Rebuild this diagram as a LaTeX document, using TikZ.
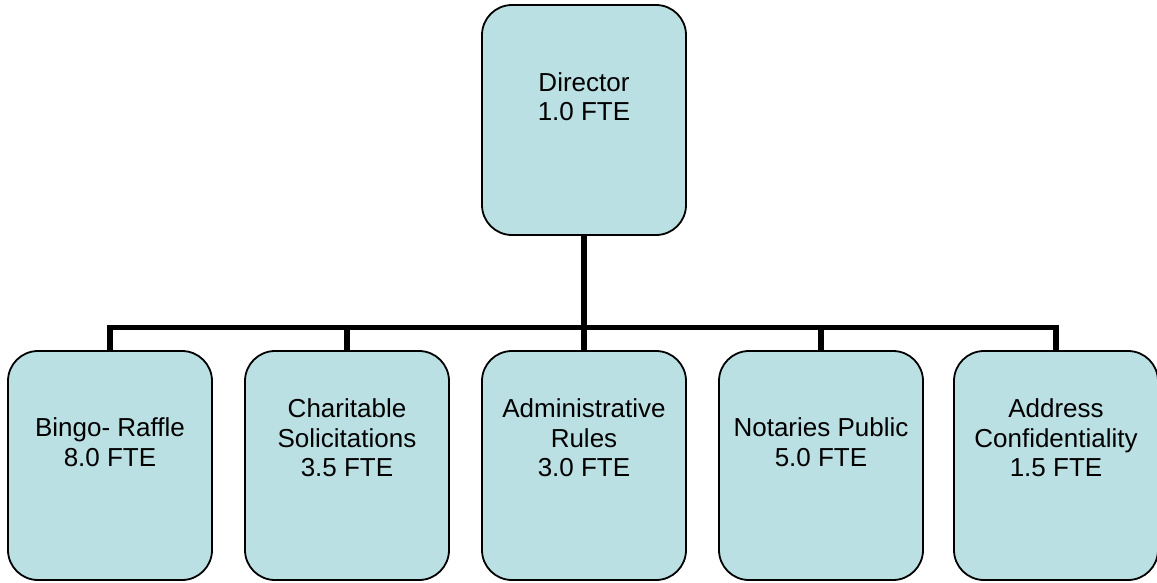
\documentclass[tikz,border=0pt]{standalone}
\usepackage{fontspec}
\setmainfont{Liberation Sans}
\begin{document}
\begin{tikzpicture}[x=1pt,y=-1pt,
  box/.style={draw=black,line width=1.8pt,fill=boxfill,rounded corners=30pt,minimum width=204pt,inner sep=0pt},
  lbl/.style={align=center,font=\fontsize{26}{29.5}\selectfont,inner sep=0pt},
  conn/.style={line width=5.5pt}]
\definecolor{boxfill}{HTML}{BBE0E3}
\useasboundingbox (0,0) rectangle (1157,582);
\node[box,minimum height=230pt] (dir) at (584,120) {};
\node[lbl] (dirt) at (584,96.5) {Director\\1.0 FTE};
\foreach \n/\x/\y/\t in {b1/110/442/{Bingo- Raffle\\8.0 FTE},b2/347/438/{Charitable\\Solicitations\\3.5 FTE},b3/584/438/{Administrative\\Rules\\3.0 FTE},b4/821/442/{Notaries Public\\5.0 FTE},b5/1056/438/{Address\\Confidentiality\\1.5 FTE}}{
  \node[box,minimum height=229pt] (\n) at (\x,465.5) {};
  \node[lbl] (\n t) at (\x,\y) {\t};
}
\coordinate (bus) at (584,327.5);
\draw[conn] (dir.south) -- (bus);
\draw[conn] (b1.north) |- (bus) -| (b5.north);
\foreach \n in {b2,b3,b4}{\draw[conn] (\n.north) -- (\n.north |- bus);}
\end{tikzpicture}
\end{document}
